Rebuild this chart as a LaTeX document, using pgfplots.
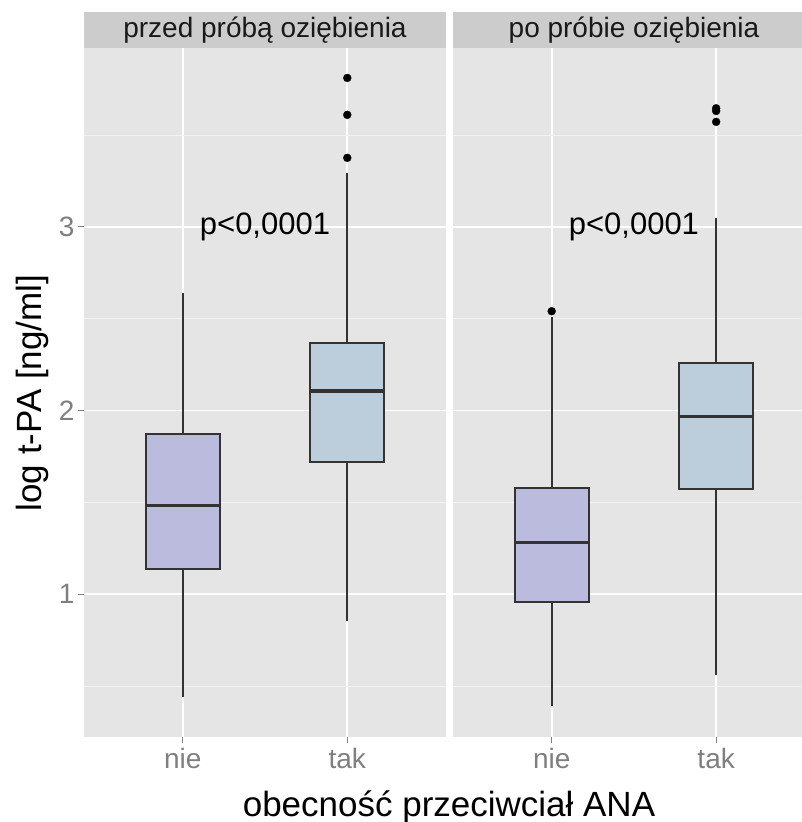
\documentclass[border=0pt]{standalone}
\usepackage{fontspec}
\setmainfont{Liberation Sans}
\usepackage{pgfplots}
\pgfplotsset{compat=1.18}
\usepgfplotslibrary{statistics}

\definecolor{panelbg}{HTML}{E5E5E5}
\definecolor{stripbg}{HTML}{CCCCCC}
\definecolor{minorgrid}{HTML}{F2F2F2}
\definecolor{tickgray}{HTML}{7F7F7F}
\definecolor{boxline}{HTML}{333333}
\definecolor{fnie}{HTML}{BBBBDD}
\definecolor{ftak}{HTML}{BCCDDB}

\pgfplotsset{
  facet/.style={
    scale only axis, height=689pt,
    ymin=0.223, ymax=3.974, xmin=0.4,
    axis background/.style={fill=panelbg},
    axis line style={draw=none},
    grid=both,
    major grid style={white, line width=1.7pt},
    minor grid style={minorgrid, line width=1pt},
    xtick={1,2}, xticklabels={nie,tak},
    ytick={1,2,3}, minor ytick={0.5,1.5,2.5,3.5},
    minor tick length=0pt, major tick length=6pt,
    tick align=outside, xtick pos=bottom, ytick pos=left,
    tick style={tickgray, line width=1pt},
    ticklabel style={font=\fontsize{28}{30}\selectfont, text=tickgray},
    /pgf/number format/assume math mode=true,
    xticklabel style={yshift=-2pt},
    boxplot/draw direction=y,
    boxplot/every median/.style={line width=3.5pt},
    boxplot/every whisker/.style={line width=2pt},
    boxplot/every box/.style={line width=2pt},
    boxplot/box extend=0.45,
    boxplot/whisker extend=0,
  },
  bx/.style={draw=boxline, line width=2pt, fill=#1, mark=*,
    mark size=4pt, mark options={draw=black, fill=black, solid, line width=0.3pt}},
}

\begin{document}
\begin{tikzpicture}[x=1pt,y=1pt]
\path[use as bounding box] (0,0) rectangle (802,-822);

% left panel
\begin{axis}[facet, at={(84pt,-737pt)}, anchor=south west,
  width=362pt, xmax=2.6, yticklabels={1,2,3}]
\addplot[bx=fnie, boxplot prepared={median=1.483, upper quartile=1.875,
  lower quartile=1.136, upper whisker=2.642, lower whisker=0.439,
  draw position=1}] coordinates {};
\addplot[bx=ftak, boxplot prepared={median=2.107, upper quartile=2.368,
  lower quartile=1.719, upper whisker=3.294, lower whisker=0.856,
  draw position=2}] table[row sep=\\, y index=0] {3.811\\3.610\\3.376\\};
\node[font=\fontsize{31}{34}\selectfont] at (axis cs:1.5,3) {p<0,0001};
\end{axis}

% right panel
\begin{axis}[facet, at={(453pt,-737pt)}, anchor=south west,
  width=349pt, xmax=2.522, yticklabels={}, ytick style={draw=none}]
\addplot[bx=fnie, boxplot prepared={median=1.281, upper quartile=1.581,
  lower quartile=0.956, upper whisker=2.512, lower whisker=0.392,
  draw position=1}] table[row sep=\\, y index=0] {2.541\\};
\addplot[bx=ftak, boxplot prepared={median=1.969, upper quartile=2.258,
  lower quartile=1.574, upper whisker=3.049, lower whisker=0.559,
  draw position=2}] table[row sep=\\, y index=0] {3.646\\3.631\\3.572\\};
\node[font=\fontsize{31}{34}\selectfont] at (axis cs:1.5,3) {p<0,0001};
\end{axis}

% facet strips
\fill[stripbg] (84,-12) rectangle (446,-48);
\fill[stripbg] (453,-12) rectangle (802,-48);
\node[font=\fontsize{28}{30}\selectfont, text=black!90] at (265,-30) {przed próbą oziębienia};
\node[font=\fontsize{28}{30}\selectfont, text=black!90] at (634,-30) {po próbie oziębienia};

% axis titles
\node[font=\fontsize{35}{40}\selectfont] at (449,-807) {obecność przeciwciał ANA};
\node[font=\fontsize{35}{40}\selectfont, rotate=90] at (32,-393) {log t-PA [ng/ml]};
\end{tikzpicture}
\end{document}
